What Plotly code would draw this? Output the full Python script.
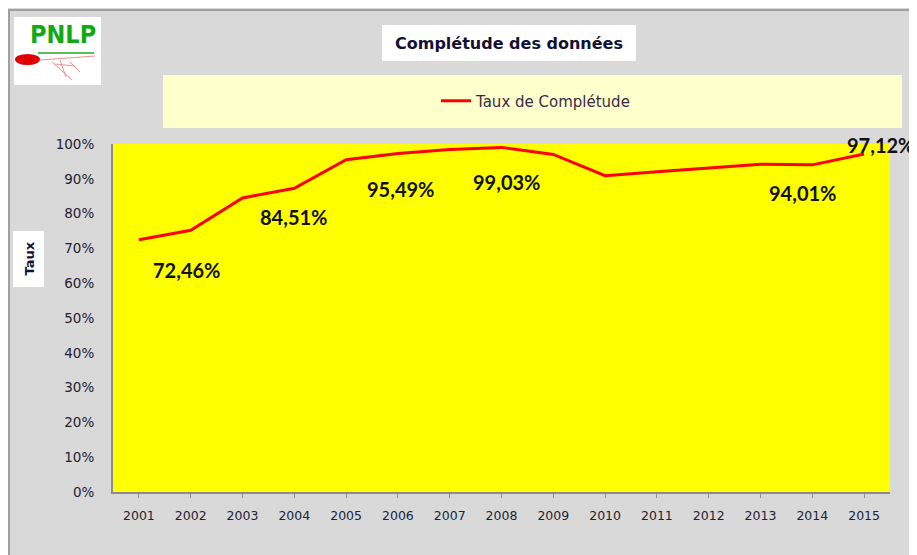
import plotly.graph_objects as go

years = [2001, 2002, 2003, 2004, 2005, 2006, 2007, 2008, 2009, 2010, 2011, 2012, 2013, 2014, 2015]
taux = [72.46, 75.2, 84.51, 87.3, 95.49, 97.3, 98.4, 99.03, 97.0, 90.9, 92.0, 93.1, 94.2, 94.01, 97.12]
y_ticks = [0, 10, 20, 30, 40, 50, 60, 70, 80, 90, 100]
y_tick_text = [f"{v}%" for v in y_ticks]
# labelled points (as shown on the chart)
label_years = [2001, 2003, 2005, 2008, 2014, 2015]
label_values = [72.46, 84.51, 95.49, 99.03, 94.01, 97.12]
label_text = ["72,46%", "84,51%", "95,49%", "99,03%", "94,01%", "97,12%"]
# label placement offsets (category units / percentage points)
label_dx = [0.91, 0.99, 1.05, 0.09, -0.18, 0.31]
label_dy = [-8.6, -5.5, -8.4, -9.9, -8.0, 2.6]

# page offset (browser body margin) and figure size
OFF = 8
W, H = 917 - OFF, 555 - OFF
# plot area in screen pixels
L, R, T, B = 113, 890, 144, 492


def px(x):
    return (x - L) / (R - L)


def py(y):
    return (B - y) / (B - T)


fig = go.Figure()
fig.add_trace(go.Scatter(
    x=years, y=taux, mode="lines", name="Taux de Complétude",
    line=dict(color="#ff0000", width=3),
))


def rect(x0, x1, y0, y1, color):
    return dict(type="rect", xref="paper", yref="paper", x0=px(x0), x1=px(x1), y0=py(y1), y1=py(y0),
                fillcolor=color, line=dict(width=0), layer="below")


shapes = []
# chart border
shapes.append(dict(type="line", xref="paper", yref="paper", x0=px(8), x1=px(917), y0=py(10), y1=py(10),
                   line=dict(color="#a0a0a0", width=2), layer="below"))
shapes.append(dict(type="line", xref="paper", yref="paper", x0=px(9), x1=px(9), y0=py(9), y1=py(555),
                   line=dict(color="#a0a0a0", width=2), layer="below"))
# logo
shapes.append(rect(14, 101, 17, 85, "white"))
shapes.append(dict(type="line", xref="paper", yref="paper", x0=px(38), x1=px(94), y0=py(53), y1=py(53),
                   line=dict(color="#22aa22", width=1.5), layer="below"))
shapes.append(dict(type="path", xref="paper", yref="paper",
                   path=f"M {px(40)} {py(60)} L {px(95)} {py(56)} M {px(52)} {py(62)} L {px(72)} {py(80)} "
                        f"M {px(60)} {py(60)} L {px(66)} {py(77)} M {px(70)} {py(62)} L {px(80)} {py(72)} "
                        f"M {px(55)} {py(64)} L {px(75)} {py(66)}",
                   line=dict(color="#f09090", width=1), layer="below"))
shapes.append(dict(type="circle", xref="paper", yref="paper", x0=px(15), x1=px(40), y0=py(65), y1=py(54),
                   fillcolor="#e00000", line=dict(width=0), layer="below"))
# title box
shapes.append(rect(382, 636, 25, 61, "white"))
# legend box
shapes.append(rect(163, 902, 75, 128, "#ffffcc"))
# y title box
shapes.append(rect(13, 44, 231, 287, "white"))


def note(x, y, text, size, family, color, angle=0):
    return dict(xref="paper", yref="paper", x=px(x), y=py(y), xanchor="center", yanchor="middle",
                text=text, showarrow=False, textangle=angle,
                font=dict(family=family, size=size, color=color))


annotations = [
    note(63, 34, "<b>PNLP</b>", 25, "Liberation Sans Narrow, DejaVu Sans Condensed, Arial", "#11aa11"),
    note(509, 43, "<b>Complétude des données</b>", 16, "DejaVu Sans", "#111133"),
    note(28.5, 259, "<b>Taux</b>", 13, "DejaVu Sans", "#111133", -90),
]
for yr, v, t, dx, dy in zip(label_years, label_values, label_text, label_dx, label_dy):
    annotations.append(dict(x=yr + dx, y=v + dy, xref="x", yref="y", xanchor="center", yanchor="middle",
                            text=f"<b>{t}</b>", showarrow=False,
                            font=dict(family="Lato, Open Sans", size=20, color="#111111")))

fig.update_layout(
    width=W, height=H,
    margin=dict(l=L - OFF, r=917 - R, t=T - OFF, b=555 - B, pad=0),
    paper_bgcolor="#d9d9d9",
    plot_bgcolor="#ffff00",
    shapes=shapes,
    annotations=annotations,
    showlegend=True,
    legend=dict(orientation="h", x=px(536), y=py(101), xanchor="center", yanchor="middle",
                bgcolor="rgba(0,0,0,0)", font=dict(family="DejaVu Sans", size=15, color="#3a2a4a"),
                itemwidth=30),
    xaxis=dict(
        range=[2000.5, 2015.5], tickmode="array", tickvals=years, ticktext=[str(y) for y in years],
        showgrid=False, zeroline=False, showline=True, linecolor="#8c8c8c", linewidth=2,
        ticks="outside", ticklen=4, tickcolor="#8c8c8c",
        tickfont=dict(family="DejaVu Sans", size=12.5, color="#222233"),
        ticklabelstandoff=7,
    ),
    yaxis=dict(
        range=[0, 100], tickmode="array", tickvals=y_ticks, ticktext=y_tick_text,
        showgrid=False, zeroline=False, showline=True, linecolor="#8c8c8c", linewidth=2,
        ticks="", tickfont=dict(family="DejaVu Sans", size=13.5, color="#222233"),
        ticklabelstandoff=14,
    ),
)

fig.write_html("out.html")
